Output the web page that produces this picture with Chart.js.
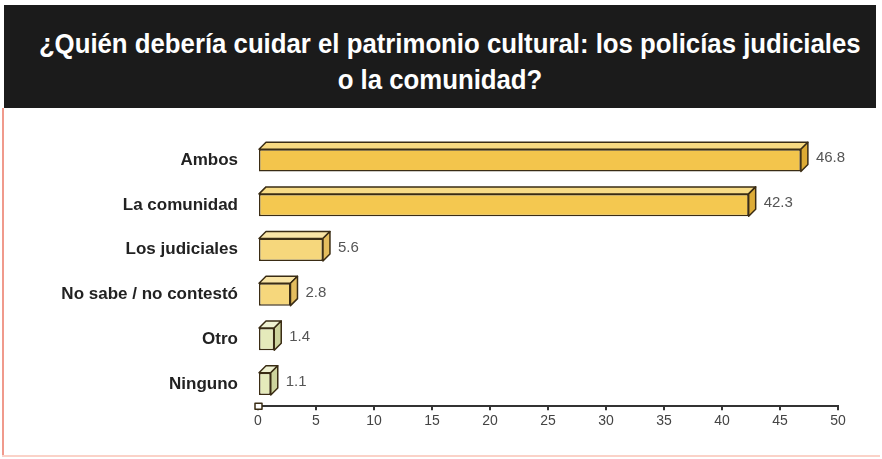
<!DOCTYPE html>
<html lang="es">
<head>
<meta charset="utf-8">
<title>Patrimonio cultural</title>
<script src="https://cdn.jsdelivr.net/npm/chart.js@4.4.1/dist/chart.umd.min.js"></script>
<style>
  html, body { margin: 0; padding: 0; background: #fff; }
  #page { position: relative; width: 882px; height: 459px; overflow: hidden; background: #fff; }
  #header {
    position: absolute; left: 4px; top: 5px; width: 872px; height: 103px;
    background: #1b1b1b; overflow: hidden;
  }
  #header h1 {
    position: absolute; left: 0; right: 0; top: 21px; margin: 0;
    color: #fff; text-align: center; white-space: nowrap;
    font: bold 28px/36px "Liberation Sans", Arial, sans-serif;
    transform: scaleX(0.92); transform-origin: 50% 0;
  }
  #leftEdge { position: absolute; left: 2px; top: 108px; width: 2px; height: 349px; background: #f09a8c; }
  #bottomEdge { position: absolute; left: 2px; top: 455px; width: 878px; height: 2px; background: #fbd2c8; }
  #wrap { position: absolute; left: 5px; top: 108px; width: 870px; height: 345px; }
</style>
</head>
<body>
<div id="page">
  <div id="header"><h1>¿Quién debería cuidar el patrimonio cultural: los policías judiciales<br>o la comunidad?</h1></div>
  <div id="leftEdge"></div>
  <div id="bottomEdge"></div>
  <div id="wrap"><canvas id="chart"></canvas></div>
</div>
<script>
// answers and their share (%)
const categories = ['Ambos', 'La comunidad', 'Los judiciales', 'No sabe / no contestó', 'Otro', 'Ninguno'];
const values = [46.8, 42.3, 5.6, 2.8, 1.4, 1.1];
const valueLabels = ['46.8', '42.3', '5.6', '2.8', '1.4', '1.1'];

// front / top / side colours for each bar
const frontColors = ['#f3c54c', '#f4c850', '#f6d77c', '#f6d77c', '#e5eabb', '#e5eabb'];
const topColors = ['#f8da82', '#f8dc86', '#f9e5a6', '#f9e5a6', '#eff2d2', '#eff2d2'];
const sideColors = ['#dcaa34', '#ddac38', '#e4bd5e', '#e4bd5e', '#cdd39c', '#cdd39c'];

const DEPTH = 7;
const OUTLINE = '#3a2c14';

// draws the top and side faces of each box, the value labels and the origin marker
const boxes3d = {
  id: 'boxes3d',
  afterDatasetsDraw(chart) {
    const ctx = chart.ctx;
    const meta = chart.getDatasetMeta(0);
    ctx.save();
    ctx.lineJoin = 'round';
    ctx.lineWidth = 1.5;
    ctx.strokeStyle = OUTLINE;
    meta.data.forEach((bar, i) => {
      const p = bar.getProps(['x', 'y', 'base', 'height'], true);
      const top = p.y - p.height / 2;
      const bottom = p.y + p.height / 2;
      // top face
      ctx.beginPath();
      ctx.moveTo(p.base, top);
      ctx.lineTo(p.base + DEPTH, top - DEPTH);
      ctx.lineTo(p.x + DEPTH, top - DEPTH);
      ctx.lineTo(p.x, top);
      ctx.closePath();
      ctx.fillStyle = topColors[i];
      ctx.fill();
      ctx.stroke();
      // side face
      ctx.beginPath();
      ctx.moveTo(p.x, top);
      ctx.lineTo(p.x + DEPTH, top - DEPTH);
      ctx.lineTo(p.x + DEPTH, bottom - DEPTH);
      ctx.lineTo(p.x, bottom);
      ctx.closePath();
      ctx.fillStyle = sideColors[i];
      ctx.fill();
      ctx.stroke();

      ctx.fillStyle = '#555';
      ctx.font = '15px "Liberation Sans", Arial, sans-serif';
      ctx.textAlign = 'left';
      ctx.textBaseline = 'middle';
      ctx.fillText(valueLabels[i], p.x + DEPTH + 8, p.y - 2);
    });

    // small square at the origin of the axis
    const xs = chart.scales.x;
    const x0 = xs.getPixelForValue(0);
    ctx.fillStyle = '#fff';
    ctx.lineWidth = 1.5;
    ctx.fillRect(x0 - 3, xs.top - 3, 7, 6);
    ctx.strokeRect(x0 - 3, xs.top - 3, 7, 6);
    ctx.restore();
  }
};

new Chart(document.getElementById('chart'), {
  type: 'bar',
  data: {
    labels: categories,
    datasets: [{
      data: values,
      backgroundColor: frontColors,
      borderColor: OUTLINE,
      borderWidth: 1.5,
      borderSkipped: false,
      barPercentage: 0.5,
      categoryPercentage: 1
    }]
  },
  options: {
    indexAxis: 'y',
    responsive: true,
    maintainAspectRatio: false,
    animation: false,
    layout: { padding: { top: 30, right: 37, bottom: 20, left: 0 } },
    plugins: {
      legend: { display: false },
      tooltip: { enabled: false }
    },
    scales: {
      x: {
        min: 0,
        max: 50,
        ticks: {
          stepSize: 5,
          color: '#444',
          padding: 3,
          font: { family: '"Liberation Sans", Arial, sans-serif', size: 14 }
        },
        grid: { drawOnChartArea: false, tickLength: 4, color: '#333', lineWidth: 2 },
        border: { color: '#333', width: 2 }
      },
      y: {
        afterFit(scale) { scale.width = 253; },
        ticks: {
          color: '#222',
          padding: 12,
          font: { family: '"Liberation Sans", Arial, sans-serif', size: 17, weight: 'bold' }
        },
        grid: { display: false },
        border: { display: false }
      }
    }
  },
  plugins: [boxes3d]
});
</script>
</body>
</html>
